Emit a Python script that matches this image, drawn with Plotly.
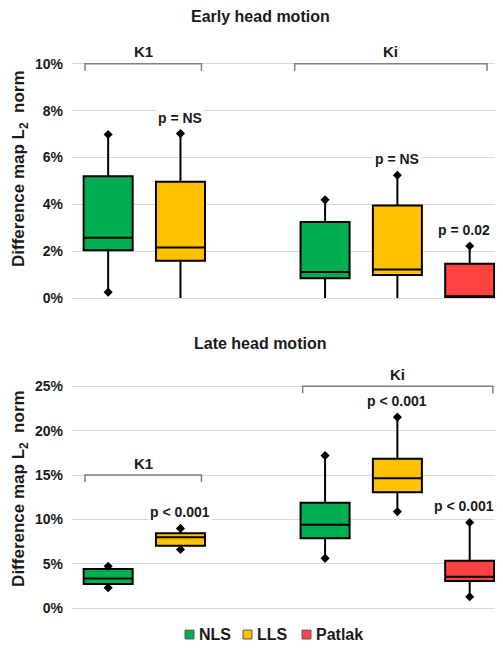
import plotly.graph_objects as go

# ---------------- data (percent) ----------------
methods = ["NLS", "LLS", "Patlak"]
colors = {"NLS": "#00B050", "LLS": "#FFC000", "Patlak": "#FF4343"}
# slot of each method within the two parameter groups (K1: 0,1 ; Ki: 3,4,5)
slots = {"NLS": [0, 3], "LLS": [1, 4], "Patlak": [5]}

# Early head motion
early_lower = {"NLS": [0.25, 0.0], "LLS": [0.0, 0.0], "Patlak": [0.0]}
early_q1 = {"NLS": [2.04, 0.84], "LLS": [1.59, 0.98], "Patlak": [0.03]}
early_med = {"NLS": [2.57, 1.11], "LLS": [2.16, 1.22], "Patlak": [0.08]}
early_q3 = {"NLS": [5.20, 3.24], "LLS": [4.96, 3.95], "Patlak": [1.46]}
early_upper = {"NLS": [6.98, 4.19], "LLS": [7.02, 5.24], "Patlak": [2.22]}

# Late head motion
late_lower = {"NLS": [2.33, 5.63], "LLS": [6.63, 10.89], "Patlak": [1.30]}
late_q1 = {"NLS": [2.74, 7.89], "LLS": [7.04, 13.07], "Patlak": [3.07]}
late_med = {"NLS": [3.37, 9.41], "LLS": [8.00, 14.63], "Patlak": [3.56]}
late_q3 = {"NLS": [4.44, 11.89], "LLS": [8.44, 16.85], "Patlak": [5.37]}
late_upper = {"NLS": [4.74, 17.19], "LLS": [9.00, 21.52], "Patlak": [9.67]}

early_p = [("LLS", 0, "p = NS"), ("LLS", 1, "p = NS"), ("Patlak", 0, "p = 0.02")]
late_p = [("LLS", 0, "p < 0.001"), ("LLS", 1, "p < 0.001"), ("Patlak", 0, "p < 0.001")]

early_ticks = [0, 2, 4, 6, 8, 10]
early_ticktext = ["0%", "2%", "4%", "6%", "8%", "10%"]
late_ticks = [0, 5, 10, 15, 20, 25]
late_ticktext = ["0%", "5%", "10%", "15%", "20%", "25%"]

titles = ["Early head motion", "Late head motion"]
ytitle = "Difference map L<sub>2</sub>\u00a0 norm"

# ---------------- figure ----------------
# the page body has an 8 px margin: the figure is sized to fit inside it
OFF = 8
W, H = 503 - 2 * OFF, 655 - 2 * OFF - 1
FONT = "Liberation Sans, Arial, sans-serif"
TXT = "#1a1a1a"
GRID = "#d9d9d9"
BRACKET = "#7f7f7f"
BOXW = 0.678


def fx(p):
    return (p - OFF) / W


def fy(p):
    return 1 - (p - OFF) / H


fig = go.Figure()

panels = [
    dict(xa="x", ya="y", lower=early_lower, q1=early_q1, med=early_med, q3=early_q3,
         upper=early_upper, p=early_p),
    dict(xa="x2", ya="y2", lower=late_lower, q1=late_q1, med=late_med, q3=late_q3,
         upper=late_upper, p=late_p),
]

for pn in panels:
    for m in methods:
        fig.add_trace(go.Box(
            x=slots[m], q1=pn["q1"][m], median=pn["med"][m], q3=pn["q3"][m],
            lowerfence=pn["lower"][m], upperfence=pn["upper"][m],
            fillcolor=colors[m], line=dict(color="black", width=2),
            width=BOXW, whiskerwidth=0, boxpoints=False,
            xaxis=pn["xa"], yaxis=pn["ya"], showlegend=False, name=m,
        ))
        # diamond ends of whiskers (hidden where whisker reaches the axis)
        xs, ys = [], []
        for s, lo, hi in zip(slots[m], pn["lower"][m], pn["upper"][m]):
            xs.append(s); ys.append(hi)
            if lo > 0:
                xs.append(s); ys.append(lo)
        fig.add_trace(go.Scatter(
            x=xs, y=ys, mode="markers",
            marker=dict(symbol="diamond", size=7, color="black"),
            xaxis=pn["xa"], yaxis=pn["ya"], showlegend=False, hoverinfo="skip",
        ))
    for m, i, txt in pn["p"]:
        last = m == "Patlak"
        fig.add_annotation(
            x=slots[m][i], y=pn["upper"][m][i], xref=pn["xa"], yref=pn["ya"],
            text=txt, showarrow=False, yanchor="middle", yshift=16,
            xanchor="center", xshift=-6 if last else 0,
            font=dict(family=FONT, size=14, color=TXT, weight="bold"),
            bgcolor="white", borderpad=1,
        )

# brackets: (xref, yref, x0, x1, y, tick depth, label)
brackets = [
    ("x", "y", -0.32, 1.29, 10, 0.30, "K1"),
    ("x", "y", 2.58, 5.24, 10, 0.30, "Ki"),
    ("x2", "y2", -0.32, 1.29, 15, 0.78, "K1"),
    ("x2", "y2", 2.69, 5.32, 25, 0.78, "Ki"),
]
for xr, yr, x0, x1, yb, d, lab in brackets:
    fig.add_shape(type="path", xref=xr, yref=yr,
                  path=f"M {x0},{yb - d} L {x0},{yb} L {x1},{yb} L {x1},{yb - d}",
                  line=dict(color=BRACKET, width=1.5))
    fig.add_annotation(x=(x0 + x1) / 2, y=yb, xref=xr, yref=yr, text=lab,
                       showarrow=False, yanchor="middle", yshift=12,
                       font=dict(family=FONT, size=15, color=TXT, weight="bold"))

xdom = [fx(72), 1]
axis_common = dict(showgrid=True, gridcolor=GRID, gridwidth=1, zeroline=True,
                   zerolinecolor=GRID, zerolinewidth=1, showline=False,
                   ticks="", ticklabelstandoff=8,
                   tickfont=dict(family=FONT, size=14, color=TXT, weight="bold"))
xcommon = dict(domain=xdom, range=[-0.5, 5.35], showgrid=False, zeroline=False,
               showticklabels=False, showline=False, ticks="")

fig.update_layout(
    width=W, height=H, margin=dict(l=0, r=0, t=0, b=0),
    paper_bgcolor="white", plot_bgcolor="white", boxmode="overlay",
    xaxis=dict(anchor="y", **xcommon),
    xaxis2=dict(anchor="y2", **xcommon),
    yaxis=dict(anchor="x", domain=[fy(301.7), fy(28.9)], range=[0, 11.5],
               tickvals=early_ticks, ticktext=early_ticktext, **axis_common),
    yaxis2=dict(anchor="x2", domain=[fy(616), fy(368.5)], range=[0, 27.5],
                tickvals=late_ticks, ticktext=late_ticktext, **axis_common),
    showlegend=False,
)

# panel titles and y-axis titles
for t, ty, yt in zip(titles, [17, 348], [171, 495]):
    fig.add_annotation(x=fx(260), y=fy(ty), xref="paper", yref="paper", text=t,
                       showarrow=False, xanchor="center", yanchor="middle",
                       font=dict(family=FONT, size=16, color=TXT, weight="bold"))
    fig.add_annotation(x=fx(20), y=fy(yt), xref="paper", yref="paper", text=ytitle,
                       showarrow=False, textangle=-90, xanchor="center", yanchor="middle",
                       font=dict(family=FONT, size=17, color=TXT, weight="bold"))

# legend (manual, bottom)
leg_x = {"NLS": 185, "LLS": 243, "Patlak": 302}
for m in methods:
    x0 = leg_x[m]
    fig.add_shape(type="rect", xref="paper", yref="paper",
                  x0=fx(x0), x1=fx(x0 + 9), y0=fy(647), y1=fy(638),
                  fillcolor=colors[m], line=dict(color="#595959", width=1))
    fig.add_annotation(x=fx(x0 + 12), y=fy(642.5), xref="paper", yref="paper", text=m,
                       showarrow=False, xanchor="left", yanchor="middle",
                       font=dict(family=FONT, size=16, color=TXT, weight="bold"))

fig.write_html("out.html")
